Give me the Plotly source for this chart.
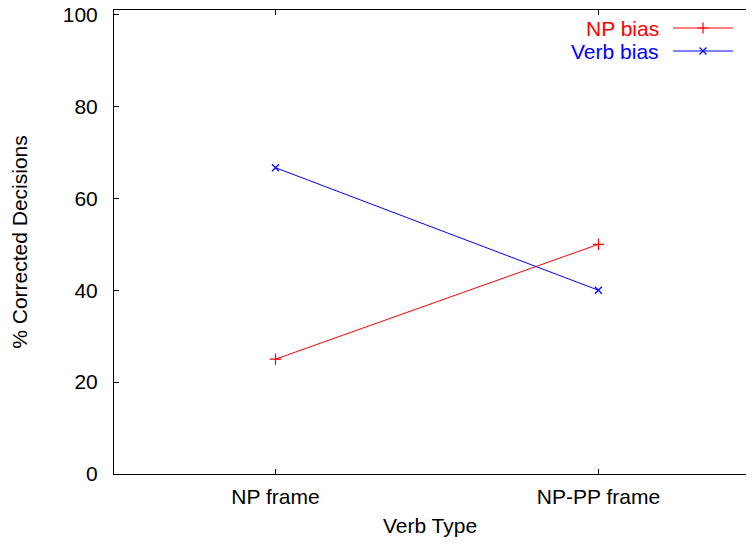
import plotly.graph_objects as go

categories = ["NP frame", "NP-PP frame"]
np_bias = [25, 50]
verb_bias = [66.67, 40]
series_names = ["NP bias", "Verb bias"]
y_ticks = [0, 20, 40, 60, 80, 100]
x_title = "Verb Type"
y_title = "% Corrected Decisions"

RED = "#ff0000"
BLUE = "#0000ff"
FONT = "Liberation Sans, Arial, sans-serif"
FS = 21

xpos = [1, 2]

fig = go.Figure()
fig.add_trace(go.Scatter(
    x=xpos, y=np_bias, mode="lines+markers", name=series_names[0],
    line=dict(color=RED, width=1),
    marker=dict(symbol="cross-thin", size=8, line=dict(color=RED, width=1.2)),
    showlegend=False))
fig.add_trace(go.Scatter(
    x=xpos, y=verb_bias, mode="lines+markers", name=series_names[1],
    line=dict(color=BLUE, width=1),
    marker=dict(symbol="x-thin", size=7, line=dict(color=BLUE, width=1.2)),
    showlegend=False))

# gnuplot-style key (text left, sample right) on an overlay axis in screen pixels
key_rows = [28, 51]
for name, col, sym, ky in [(series_names[0], RED, "cross-thin", key_rows[0]),
                           (series_names[1], BLUE, "x-thin", key_rows[1])]:
    fig.add_trace(go.Scatter(
        x=[673, 733], y=[ky, ky], mode="lines", xaxis="x2", yaxis="y2",
        line=dict(color=col, width=1), showlegend=False, hoverinfo="skip"))
    fig.add_trace(go.Scatter(
        x=[703], y=[ky], mode="markers", xaxis="x2", yaxis="y2",
        marker=dict(symbol=sym, size=8 if sym == "cross-thin" else 7,
                    line=dict(color=col, width=1.2)),
        showlegend=False, hoverinfo="skip"))
    fig.add_annotation(x=661, y=ky, xref="x2", yref="y2", text=name,
                       showarrow=False, xanchor="right", yanchor="middle",
                       font=dict(color=col, size=FS, family=FONT))

fig.update_layout(
    width=738, height=529,
    margin=dict(l=106, r=0, t=2, b=63, autoexpand=False),
    plot_bgcolor="white", paper_bgcolor="white",
    font=dict(family=FONT, size=FS, color="black"),
    xaxis=dict(
        range=[0.5, 2.457], tickvals=xpos, ticktext=categories,
        showgrid=False, zeroline=False, automargin=True,
        showline=True, linecolor="black", linewidth=1, mirror="ticks",
        ticks="inside", ticklen=5, tickcolor="black",
        ticklabelstandoff=4,
        title=dict(text=x_title, standoff=20, font=dict(size=FS)),
    ),
    yaxis=dict(
        range=[0, 101], tickvals=y_ticks,
        showgrid=False, zeroline=False, automargin=True,
        showline=True, linecolor="black", linewidth=1,
        ticks="inside", ticklen=5, tickcolor="black",
        ticklabelstandoff=11, ticklabeloverflow="allow",
        title=dict(text=y_title, standoff=36, font=dict(size=FS)),
    ),
    xaxis2=dict(overlaying="x", range=[114, 746], visible=False, fixedrange=True),
    yaxis2=dict(overlaying="y", range=[474, 10], visible=False, fixedrange=True),
)

fig.write_html("out.html")
